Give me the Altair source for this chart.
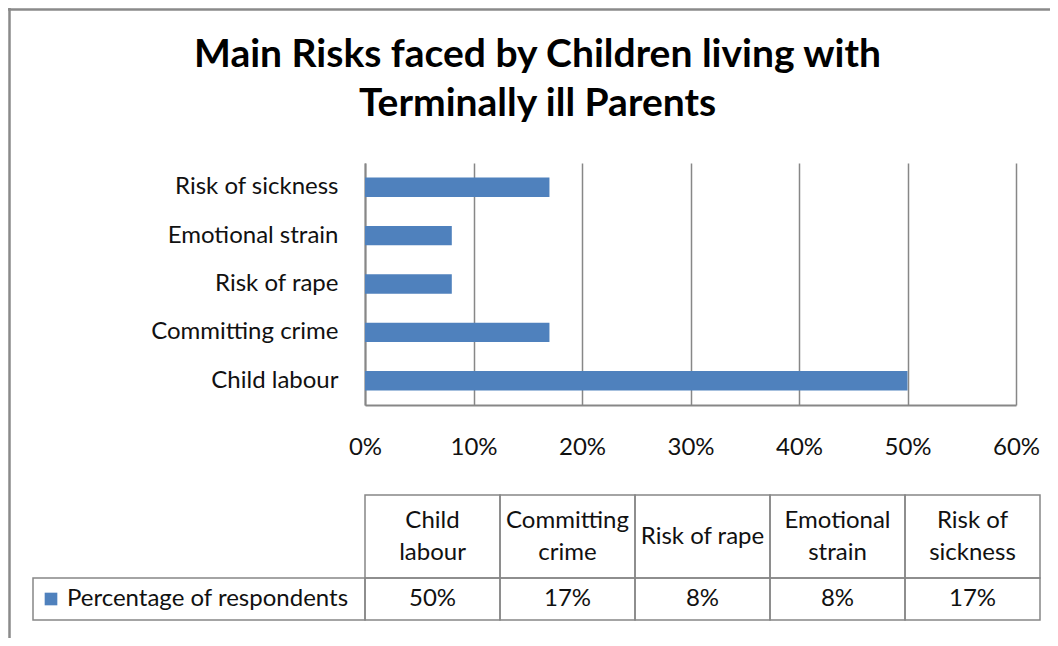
import altair as alt
import pandas as pd

# ---------------- data ----------------
categories = ["Child labour", "Committing crime", "Risk of rape", "Emotional strain", "Risk of sickness"]
values = [0.50, 0.17, 0.08, 0.08, 0.17]
header_labels = ["Child\nlabour", "Committing\ncrime", "Risk of rape", "Emotional\nstrain", "Risk of\nsickness"]
series_name = "Percentage of respondents"
x_ticks = [0, 0.1, 0.2, 0.3, 0.4, 0.5, 0.6]
title_lines = ["Main Risks faced by Children living with", "Terminally ill Parents"]

df = pd.DataFrame({"category": categories, "value": values, "header": header_labels})
one = pd.DataFrame({"k": [0]})

# ---------------- style / layout ----------------
FONT = "Lato"
BLUE = "#4F81BD"
GRAY = "#878787"
TXT = "#111111"
FS = 24
PLOT_W, PLOT_H = 651, 242
TABLE_W = 675
HEAD_TOP, HEAD_BOT, ROW_BOT = 332, 415, 457
ROWHEAD_LEFT = -332
HEAD_LH = 32

bars = alt.Chart(df).mark_bar(color=BLUE).encode(
    x=alt.X("value:Q",
            scale=alt.Scale(domain=[0, 0.6], nice=False, zero=True),
            axis=alt.Axis(values=x_ticks, format=".0%", grid=True, gridColor=GRAY, gridWidth=1.5,
                          domainColor=GRAY, domainWidth=2, ticks=False, tickSize=0,
                          labelPadding=42, labelBaseline="middle", labelFontSize=FS, labelFont=FONT,
                          labelColor=TXT, labelFlush=False, title=None)),
    y=alt.Y("category:N", sort=list(reversed(categories)),
            scale=alt.Scale(paddingInner=0.6, paddingOuter=0.3),
            axis=alt.Axis(domainColor=GRAY, domainWidth=2, ticks=False, tickSize=0,
                          labelPadding=27, labelFontSize=FS, labelFont=FONT, labelColor=TXT,
                          labelLimit=400, title=None)),
)

tx = alt.X("category:N", sort=categories,
           scale=alt.Scale(type="band", range=[0, TABLE_W], paddingInner=0, paddingOuter=0),
           axis=None)

head_mid = (HEAD_TOP + HEAD_BOT) / 2
row_mid = (HEAD_BOT + ROW_BOT) / 2

head_cells = alt.Chart(df).mark_rect(fill="transparent", stroke=GRAY, strokeWidth=1.5).encode(
    x=tx, y=alt.value(HEAD_TOP), y2=alt.value(HEAD_BOT))
row_cells = alt.Chart(df).mark_rect(fill="transparent", stroke=GRAY, strokeWidth=1.5).encode(
    x=tx, y=alt.value(HEAD_BOT), y2=alt.value(ROW_BOT))
head_text_2 = alt.Chart(df).transform_filter("indexof(datum.header, '\\n') >= 0").mark_text(
    font=FONT, fontSize=FS, lineBreak="\n", lineHeight=HEAD_LH,
    baseline="middle", align="center", color=TXT).encode(
    x=tx, y=alt.value(head_mid - HEAD_LH / 2), text="header:N")
head_text_1 = alt.Chart(df).transform_filter("indexof(datum.header, '\\n') < 0").mark_text(
    font=FONT, fontSize=FS, baseline="middle", align="center", color=TXT).encode(
    x=tx, y=alt.value(head_mid), text="header:N")
val_text = alt.Chart(df).mark_text(font=FONT, fontSize=FS, baseline="middle", align="center",
                                   color=TXT).encode(
    x=tx, y=alt.value(row_mid), text=alt.Text("value:Q", format=".0%"))
table = alt.layer(head_cells, row_cells, head_text_2, head_text_1, val_text)

rowhead_cell = alt.Chart(one).mark_rect(fill="transparent", stroke=GRAY, strokeWidth=1.5).encode(
    x=alt.value(ROWHEAD_LEFT), x2=alt.value(0), y=alt.value(HEAD_BOT), y2=alt.value(ROW_BOT))
rowhead_key = alt.Chart(one).mark_square(color=BLUE, opacity=1, size=160).encode(
    x=alt.value(-314), y=alt.value(row_mid))
rowhead_text = alt.Chart(pd.DataFrame({"name": [series_name]})).mark_text(
    font=FONT, fontSize=FS, baseline="middle", align="left", color=TXT).encode(
    x=alt.value(-298), y=alt.value(row_mid), text="name:N")

title = alt.Chart(pd.DataFrame({"t": ["\n".join(title_lines)]})).mark_text(
    font=FONT, fontSize=39, fontWeight="bold", lineBreak="\n", lineHeight=49,
    baseline="middle", align="center", color="#000000").encode(
    x=alt.value(172.5), y=alt.value(-108.5), text="t:N")

frame_top = alt.Chart(one).mark_rule(color="#8a8a8a", strokeWidth=2.5).encode(
    x=alt.value(-357), x2=alt.value(685), y=alt.value(-153.5))
frame_left = alt.Chart(one).mark_rule(color="#8a8a8a", strokeWidth=2.5).encode(
    x=alt.value(-355.5), y=alt.value(-155), y2=alt.value(475))

chart = alt.layer(
    frame_top, frame_left, title, bars, table, rowhead_cell, rowhead_key, rowhead_text
).resolve_scale(x="independent").properties(
    width=PLOT_W, height=PLOT_H,
    autosize=alt.AutoSizeParams(type="none"),
    padding={"left": 357, "top": 155, "right": 34, "bottom": 233},
    background="white",
).configure_view(strokeWidth=0)

chart.save("out.html", embed_options={"renderer": "svg", "actions": False})
